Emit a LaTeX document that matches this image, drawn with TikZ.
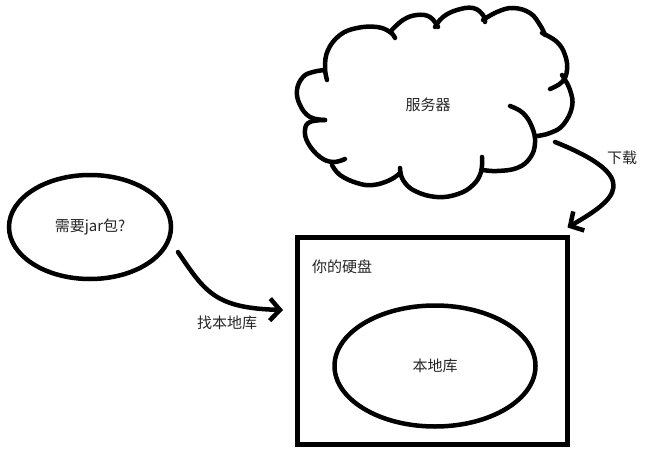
\documentclass[tikz,border=0pt]{standalone}
\usepackage{fontspec}
\newfontfamily\cjk{Noto Sans CJK SC}
\usetikzlibrary{shapes.geometric,arrows.meta}
\begin{document}
\begin{tikzpicture}[x=1pt,y=-1pt,
  every node/.style={font=\cjk\fontsize{15}{18}\selectfont, inner sep=0pt, outer sep=0pt, text=black!85},
  boxline/.style={draw, line width=4.5pt},
  oval/.style={ellipse, draw, line width=4.5pt},
  bump/.style={line width=4.5pt, line cap=round},
  flow/.style={line width=4.5pt, line cap=round, line join=round, -{Straight Barb[length=10pt,width=22pt]}}
]
\useasboundingbox[fill=white] (0,0) rectangle (647,460);

% nodes
\node[oval, minimum width=162pt, minimum height=104pt] (need) at (90,227) {需要jar包?};
\node[boxline, minimum width=270pt, minimum height=207pt] (disk) at (432.5,341) {};
\node (disklabel) at (342,267) {你的硬盘};
\node[oval, minimum width=201pt, minimum height=121pt] (repo) at (435,366) {本地库};
\node (srv) at (428,105) {服务器};
\node (findlbl) at (227,323) {找本地库};
\node (dllbl) at (622,158) {下载};

% cloud
\draw[bump] plot[smooth, tension=0.7] coordinates {(327,80) (325,67) (328,50) (340,35) (357,28) (377,27) (390,32) (395,38)};
\draw[bump] plot[smooth, tension=0.7] coordinates {(390,32) (403,20) (417,15) (430,17) (438,27)};
\draw[bump] plot[smooth, tension=0.7] coordinates {(435,27) (443,17) (457,10) (473,8) (483,15) (485,22)};
\draw[bump] plot[smooth, tension=0.7] coordinates {(483,20) (497,12) (513,8) (530,13) (540,25) (545,35)};
\draw[bump] plot[smooth, tension=0.7] coordinates {(542,33) (557,42) (565,55) (567,70) (562,82) (550,89)};
\draw[bump] plot[smooth, tension=0.7] coordinates {(562,75) (570,90) (572,107) (563,125) (550,133) (537,136)};
\draw[bump] plot[smooth, tension=0.7] coordinates {(510,106) (523,113) (532,127) (535,143) (530,158) (517,168) (497,171) (483,170)};
\draw[bump] plot[smooth, tension=0.7] coordinates {(482,157) (481,172) (473,185) (458,194) (437,197) (415,191) (403,180) (400,168)};
\draw[bump] plot[smooth, tension=0.7] coordinates {(400,173) (390,180) (373,185) (357,183) (340,175) (332,165)};
\draw[bump] plot[smooth, tension=0.7] coordinates {(345,159) (333,162) (320,157) (308,143) (305,130) (310,122) (325,120)};
\draw[bump] plot[smooth, tension=0.7] coordinates {(325,120) (310,117) (300,105) (297,90) (303,77) (313,72) (325,70)};

% connectors
\coordinate (a1s) at (178,252);
\coordinate (a2s) at (555,142);
\draw[flow] (a1s) .. controls (205,292) and (215,308) .. ([xshift=-14.5pt,yshift=31pt]disk.west);
\draw[flow] (a2s) .. controls (645,178) and (615,200) .. ([yshift=10pt]disk.north east);
\end{tikzpicture}
\end{document}
